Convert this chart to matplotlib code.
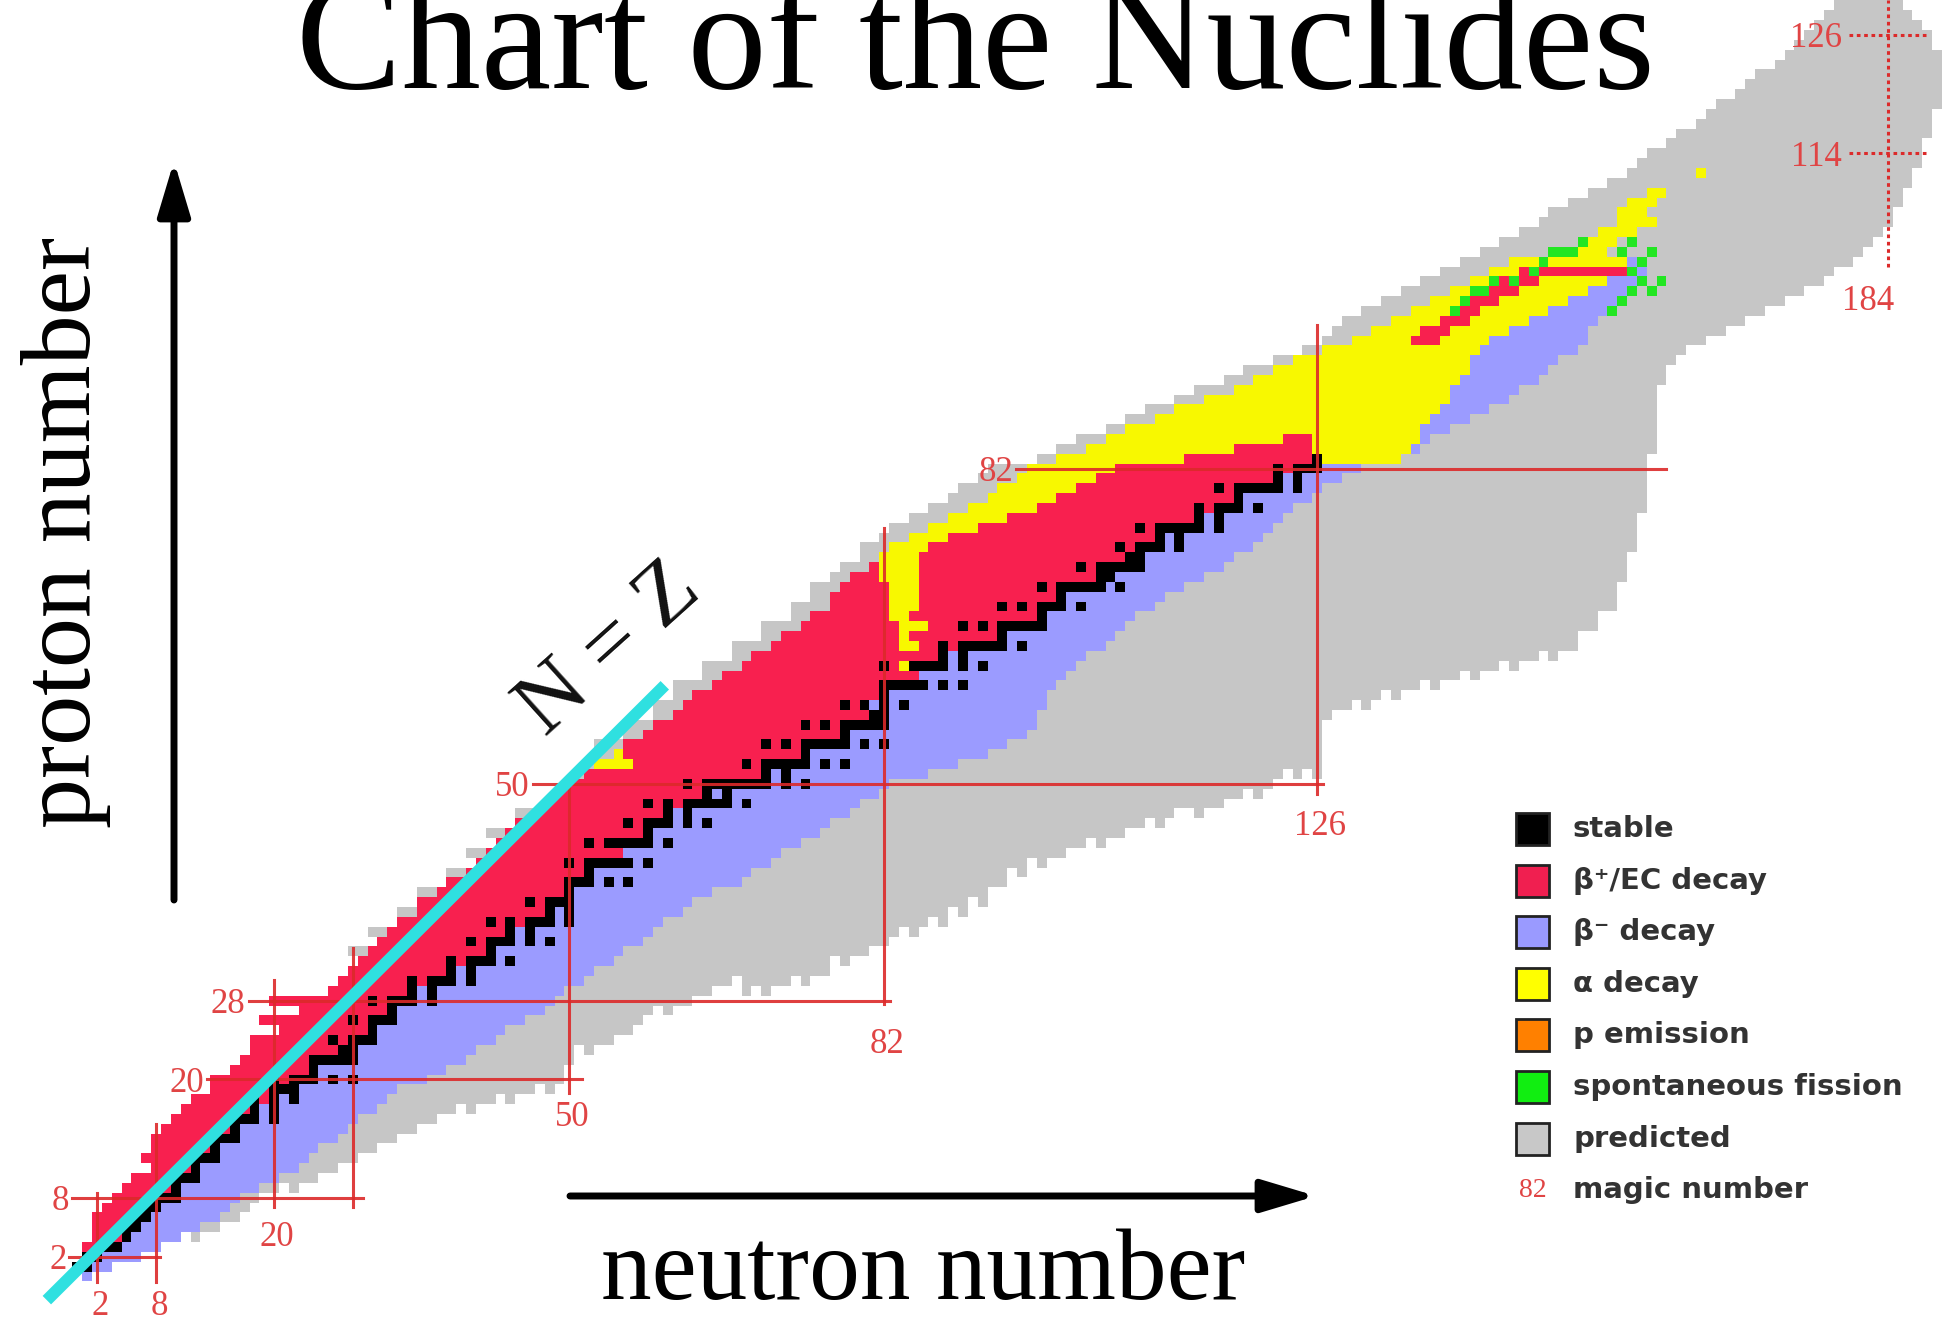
import numpy as np
import matplotlib
matplotlib.use("Agg")
import matplotlib.pyplot as plt
from matplotlib.colors import ListedColormap
from matplotlib.patches import Rectangle

W, H = 1943, 1323          # output size in pixels

# ---- chart data: N = neutron number (columns), Z = proton number (rows) ----

# first / last known nuclide (coloured cell) in each row, Z = 0..103
known_lo = [1, 0, 1, 1, 2, 2, 2, 3, 4, 5, 6, 8, 7, 8, 8, 9, 10, 11, 12, 14,
            14, 16, 17, 18, 18, 21, 19, 23, 20, 26, 27, 28, 29, 30, 31, 32, 33, 35, 35, 37,
            38, 40, 41, 42, 43, 44, 45, 47, 48, 49, 50, 52, 53, 55, 56, 58, 59, 61, 62, 63,
            65, 66, 68, 69, 71, 72, 74, 75, 77, 77, 78, 79, 81, 82, 83, 85, 87, 89, 91, 93,
            94, 96, 97, 100, 103, 105, 107, 110, 112, 115, 118, 120, 122, 124, 127, 130, 132, 134, 136, 138,
            140, 142, 144, 146]
known_hi = [1, 3, 6, 8, 10, 12, 14, 15, 16, 18, 20, 22, 23, 24, 26, 27, 28, 30, 31, 32,
            35, 37, 39, 40, 42, 43, 45, 47, 48, 49, 51, 52, 54, 55, 57, 58, 59, 61, 62, 64,
            67, 68, 70, 71, 73, 75, 76, 78, 79, 81, 82, 86, 89, 92, 94, 96, 97, 97, 98, 98,
            99, 100, 101, 102, 104, 105, 106, 107, 109, 110, 112, 114, 116, 117, 119, 120, 121, 122, 123, 125,
            126, 128, 130, 134, 136, 137, 139, 141, 143, 145, 146, 148, 149, 150, 152, 153, 153, 154, 155, 156,
            157, 158, 159, 159]
# N where beta+ (left) turns into beta- (right), Z = 0..103
beta_split = [0, 1.5, 2.5, 4.5, 5.5, 6.5, 7.5, 8.5, 10.5, 10.5, 12.5, 12.5, 14.5, 14.5, 16.5, 16.5, 19, 19, 21, 21.5,
              23, 24.5, 26.5, 27.5, 29, 30.5, 31, 32.5, 34, 35, 37, 39, 41, 42.5, 44, 45, 47, 48.5, 49, 50.5,
              53, 52.5, 55, 55.5, 57, 58.5, 60.5, 61, 63, 65, 68, 71, 73, 74.5, 76, 78.5, 79, 81.5, 81, 82.5,
              85, 86, 87, 89, 92, 94.5, 95, 98.5, 98, 100.5, 102, 104.5, 105, 107.5, 109, 111, 112, 115, 116.5, 118.5,
              120, 123, 124.5, 126.5, 128, 129, 130, 131.5, 133, 134, 136, 137, 139, 140, 142, 143, 144, 146, 147, 148,
              150, 151, 152, 153]

# predicted region (grey): first N per row, Z = 0..129
pred_lo = [1, 0, 1, 1, 2, 2, 2, 3, 4, 5, 6, 8, 7, 8, 8, 9, 10, 11, 12, 14,
           14, 16, 17, 18, 18, 21, 19, 23, 20, 26, 27, 28, 29, 28, 31, 30, 33, 33, 35, 35,
           38, 38, 41, 40, 43, 42, 45, 45, 48, 49, 50, 51, 52, 53, 53, 56, 56, 59, 59, 61,
           61, 64, 64, 67, 67, 70, 70, 73, 73, 75, 75, 77, 78, 80, 80, 82, 83, 85, 87, 89,
           90, 92, 93, 98, 100, 102, 105, 107, 109, 112, 114, 117, 119, 122, 125, 127, 128, 129, 131, 133,
           135, 137, 139, 141, 143, 145, 147, 149, 150, 152, 154, 156, 158, 159, 160, 162, 163, 165, 166, 167,
           169, 170, 171, 173, 174, 175, 176, 177, 178, 179]
# lowest occupied Z in each column, N = 0..190 (gives the comb at the bottom edge)
pred_floor = [1, 0, 1, 1, 2, 2, 2, 3, 3, 4, 4, 5, 4, 5, 5, 6, 6, 7, 8, 9,
              9, 10, 9, 10, 10, 11, 11, 12, 12, 13, 13, 14, 14, 15, 15, 16, 16, 17, 17, 18,
              17, 18, 18, 19, 18, 19, 19, 20, 19, 20, 22, 24, 23, 24, 24, 25, 25, 26, 27, 28,
              27, 28, 28, 29, 29, 30, 30, 31, 29, 30, 29, 30, 30, 31, 30, 31, 31, 33, 32, 33,
              33, 34, 34, 35, 36, 35, 36, 37, 36, 38, 37, 39, 38, 40, 40, 42, 41, 43, 42, 43,
              43, 44, 44, 45, 44, 45, 45, 46, 46, 47, 46, 47, 48, 48, 47, 48, 48, 49, 49, 50,
              49, 50, 51, 52, 51, 52, 51, 57, 58, 58, 59, 58, 59, 60, 59, 60, 60, 61, 60, 61,
              61, 62, 61, 62, 62, 63, 62, 63, 63, 64, 63, 64, 64, 66, 66, 68, 68, 71, 74, 78,
              84, 91, 93, 94, 95, 95, 96, 96, 97, 97, 98, 98, 99, 99, 100, 100, 101, 101, 102, 103,
              103, 104, 105, 106, 107, 109, 111, 113, 116, 119, 200]
# rounded top right corner of the predicted region
cap_z = [125, 126, 127, 128, 129]
cap_hi = [188, 188, 187, 186, 185]

# stable nuclides: N values for each Z = 0..83
stable_n = [[], [0, 1], [1, 2], [3, 4], [5], [5, 6], [6, 7], [7, 8], [8, 9, 10], [10],
            [10, 11, 12], [12], [12, 13, 14], [14], [14, 15, 16], [16], [16, 17, 18, 20], [18, 20], [18, 20, 22], [20, 21, 22],
            [20, 22, 23, 24, 26, 28], [24], [24, 25, 26, 27, 28], [27, 28], [26, 28, 29, 30], [30], [28, 30, 31, 32], [32],
            [30, 32, 33, 34, 36], [34, 36],
            [34, 36, 37, 38, 40], [38, 40], [38, 40, 41, 42, 44], [42], [40, 42, 43, 44, 46, 48], [44, 46],
            [42, 44, 46, 47, 48, 50], [48, 50], [46, 48, 49, 50], [50],
            [50, 51, 52, 54, 56], [52], [50, 52, 53, 54, 55, 56, 58], [], [52, 54, 55, 56, 57, 58, 60], [58],
            [56, 58, 59, 60, 62, 64], [60, 62], [58, 60, 62, 63, 64, 65, 66, 68], [64, 66],
            [62, 64, 65, 66, 67, 68, 69, 70, 72, 74], [70, 72], [68, 70, 71, 72, 73, 74, 76, 78], [74],
            [70, 72, 74, 75, 76, 77, 78, 80, 82], [78], [74, 76, 78, 79, 80, 81, 82], [81, 82], [78, 80, 82, 84], [82],
            [82, 83, 84, 85, 86, 88, 90], [], [82, 85, 86, 87, 88, 90, 92], [88, 90], [88, 90, 91, 92, 93, 94, 96], [94],
            [90, 92, 94, 95, 96, 97, 98], [98], [94, 96, 98, 99, 100, 102], [100],
            [98, 100, 101, 102, 103, 104, 106], [104, 105], [102, 104, 105, 106, 107, 108], [107, 108],
            [106, 108, 109, 110, 112], [110, 112], [108, 110, 111, 112, 113, 114, 116], [114, 116],
            [114, 116, 117, 118, 120], [118],
            [116, 118, 119, 120, 121, 122, 124], [122, 124], [122, 124, 125, 126], [126]]

# alpha emitters as runs (Z, first N, last N)
alpha_runs = [(52, 53, 56), (53, 55, 55), (62, 84, 84), (64, 84, 85), (65, 84, 84), (66, 84, 86),
              (67, 83, 84), (68, 83, 85), (69, 83, 85), (70, 83, 85), (71, 82, 85), (72, 82, 85), (73, 82, 85),
              (74, 83, 86), (75, 85, 88), (76, 87, 91), (77, 89, 94), (78, 91, 97), (79, 93, 99), (80, 94, 101),
              (81, 96, 103), (82, 97, 105), (83, 100, 112), (84, 103, 117), (85, 105, 122),
              (83, 126, 134), (84, 126, 135), (85, 126, 136),
              (86, 107, 136), (87, 110, 137), (88, 112, 138), (89, 115, 139), (90, 118, 139), (91, 120, 140),
              (92, 122, 141), (93, 124, 141), (94, 127, 142), (95, 130, 143), (96, 132, 145), (97, 134, 147),
              (98, 136, 149), (99, 138, 151), (100, 140, 153), (101, 142, 155), (102, 144, 156), (103, 146, 157),
              (104, 151, 155), (105, 153, 156), (106, 155, 158), (107, 157, 160), (108, 157, 159),
              (109, 158, 160), (110, 160, 161), (112, 165, 165)]
# beta+ runs inside the heavy alpha region (Z, first N, last N)
red_runs = [(95, 136, 138), (96, 137, 139), (97, 139, 141), (98, 141, 142), (99, 141, 144),
            (100, 143, 146), (101, 145, 148), (102, 147, 157)]
# spontaneous fission cells (N, Z)
sf_cells = [(140, 98), (141, 99), (142, 100), (143, 100), (144, 101), (146, 101), (148, 102), (149, 103),
            (150, 104), (151, 104), (152, 104), (153, 105), (156, 98), (157, 99), (158, 100), (159, 101),
            (158, 102), (159, 103), (160, 104), (157, 104), (158, 105), (160, 100), (161, 101)]

# magic numbers: horizontal lines (Z, N from, N to) and vertical lines (N, Z from, Z to)
magic_z = [2, 8, 20, 28, 50, 82]
magic_z_from = [-0.8, -0.5, 13.2, 17.4, 46.3, 95.4]
magic_z_to = [8.4, 29, 51.3, 82.6, 126.6, 161.5]
magic_n = [2, 8, 20, 28, 50, 82, 126]
magic_n_from = [-0.6, -0.6, 7.1, 7.1, 18.6, 27.7, 49]
magic_n_to = [8.5, 15.5, 30.1, 33.3, 50.3, 76, 96.6]
magic_n_label_z = [-2.6, -2.6, 4.4, None, 16.5, 23.9, 46.1]

legend_labels = ["stable", "β⁺/EC decay", "β⁻ decay", "α decay", "p emission",
                 "spontaneous fission", "predicted", "magic number"]
legend_colors = ["#000000", "#f01f50", "#9a9aff", "#ffff00", "#ff8000", "#11ee11", "#c8c8c8", None]

cell_colors = ["#c6c6c6", "#f8204f", "#9b9bff", "#f8f800", "#ff8c00", "#22e622", "#000000"]
magic_red = "#dc2a2a"

# ---- build the cell grid ----
nz, nn = len(pred_lo), len(pred_floor)
grid = np.zeros((nz, nn), dtype=int)
for z in range(nz):
    for n in range(nn):
        if n >= pred_lo[z] and z >= pred_floor[n]:
            grid[z, n] = 1
for z, hi in zip(cap_z, cap_hi):
    grid[z, hi + 1:] = 0
for z in range(len(known_lo)):
    for n in range(known_lo[z], known_hi[z] + 1):
        if z >= pred_floor[n]:
            grid[z, n] = 2 if n < beta_split[z] else 3
for z, n0, n1 in alpha_runs:
    grid[z, n0:n1 + 1] = 4
for z, n0, n1 in red_runs:
    grid[z, n0:n1 + 1] = 2
for n, z in sf_cells:
    grid[z, n] = 6
for z, ns in enumerate(stable_n):
    for n in ns:
        grid[z, n] = 7

# ---- figure ----
fig = plt.figure(figsize=(W / 100, H / 100), dpi=100)
ax = fig.add_axes([0, 0, 1, 1])
ax.set_xlim(-7.86, 189.6)
ax.set_ylim(-4.72, 129.55)
ax.axis("off")

ax.pcolormesh(np.arange(nn + 1) - 0.5, np.arange(nz + 1) - 0.5, np.ma.masked_equal(grid, 0),
              cmap=ListedColormap(cell_colors), vmin=0.5, vmax=7.5,
              shading="flat", antialiased=False, edgecolors="none", zorder=1)

serif = "Liberation Serif"
lab_kw = dict(family=serif, fontsize=25, color="#e04444", zorder=6)

for z, a, b in zip(magic_z, magic_z_from, magic_z_to):
    ax.plot([a, b], [z, z], color=magic_red, lw=2.2, alpha=0.9, zorder=3)
    ax.text(a - 0.3, z, str(z), ha="right", va="center_baseline", **lab_kw)
for n, a, b, lz in zip(magic_n, magic_n_from, magic_n_to, magic_n_label_z):
    ax.plot([n, n], [a, b], color=magic_red, lw=2.2, alpha=0.9, zorder=3)
    if lz is not None:
        ax.text(n + 0.3, lz, str(n), ha="center", va="center_baseline", **lab_kw)

# superheavy magic numbers (dotted)
for z in [114, 126]:
    ax.plot([180, 188], [z, z], color=magic_red, lw=2.2, ls=(0, (1.2, 1.2)), zorder=3)
    ax.text(179.3, z, str(z), ha="right", va="center_baseline", **lab_kw)
ax.plot([184, 184], [102.5, 129.5], color=magic_red, lw=2.2, ls=(0, (1.2, 1.2)), zorder=3)
ax.text(182.0, 99.4, "184", ha="center", va="center_baseline", **lab_kw)

# N = Z line
ax.plot([-3.1, 59.7], [-2.4, 60.0], color="#2fe0e0", lw=8.6, solid_capstyle="butt", zorder=5)
ax.text(54.1, 63.6, "N = Z", rotation=42, rotation_mode="anchor", ha="center", va="center",
        family=serif, fontsize=64, color="#111111", zorder=6)

# title and axis arrows
fig.text(975 / W, 1 - 88 / H, "Chart of the Nuclides", ha="center", va="baseline",
         family=serif, fontsize=114, color="black")
fig.text(66 / W, 1 - 532 / H, "proton number", rotation=90, ha="center", va="center",
         family=serif, fontsize=72, color="black")
fig.text(923 / W, 1 - 1321 / H, "neutron number", ha="center", va="bottom",
         family=serif, fontsize=73, color="black")

arrow_kw = dict(arrowstyle="-|>,head_length=1.1,head_width=0.33", lw=5, color="black",
                shrinkA=0, shrinkB=0, mutation_scale=30)
ax.annotate("", xy=(174 / W, 1 - 161 / H), xytext=(174 / W, 1 - 900 / H),
            xycoords="figure fraction", textcoords="figure fraction", arrowprops=arrow_kw)
ax.annotate("", xy=(1316 / W, 1 - 1196 / H), xytext=(570 / W, 1 - 1196 / H),
            xycoords="figure fraction", textcoords="figure fraction", arrowprops=arrow_kw)

# legend
for i, (lab, col) in enumerate(zip(legend_labels, legend_colors)):
    yc = 829 + i * 51.6
    if col is not None:
        fig.add_artist(Rectangle((1516 / W, 1 - (yc + 16) / H), 33 / W, 32 / H,
                                 transform=fig.transFigure, facecolor=col,
                                 edgecolor="#222222", lw=2.0))
    else:
        fig.text(1533 / W, 1 - yc / H, "82", ha="center", va="center",
                 family=serif, fontsize=20, color="#e04444")
    fig.text(1573 / W, 1 - yc / H, lab, ha="left", va="center",
             family="DejaVu Sans", fontsize=21, fontweight="bold", color="#333333")

fig.savefig("out.png", dpi=100)
